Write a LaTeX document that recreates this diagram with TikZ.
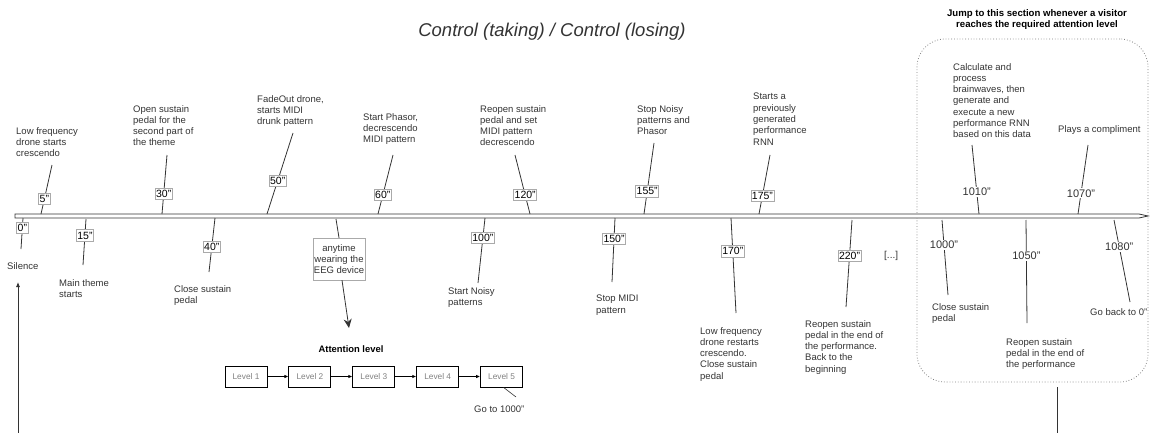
\documentclass[tikz,border=0pt]{standalone}
\usepackage{fontspec}
\setmainfont{Liberation Sans}
\usepackage{tikz}
\usetikzlibrary{arrows.meta,positioning}
\definecolor{inkgray}{HTML}{333333}
\definecolor{boxgray}{HTML}{AAAAAA}
\tikzset{
  evtext/.style = {anchor=north west, align=left, inner sep=0pt, text=inkgray,
    font=\fontsize{9.5}{11.3}\selectfont},% texte d'un evenement
  tlabel/.style = {draw=boxgray, fill=white, inner xsep=1pt, inner ysep=2pt,
    text=black, font=\fontsize{10.5}{12}\selectfont},% temps, avec cadre
  tfree/.style = {fill=white, inner sep=1pt, text=inkgray,
    font=\fontsize{11}{13}\selectfont},% temps, sans cadre
  tick/.style = {draw=inkgray, line width=0.8pt},
  anybox/.style = {draw=boxgray, fill=white, align=center, inner xsep=1pt,
    inner ysep=2pt, minimum width=50pt, minimum height=42pt, text=inkgray,
    font=\fontsize{9.5}{11.3}\selectfont},
  levelbox/.style = {draw=black, line width=0.9pt, minimum width=42pt,
    minimum height=21pt, text=gray, font=\fontsize{8.3}{10}\selectfont},
  levarrow/.style = {draw=black, line width=0.8pt, -{Latex[length=4pt,width=3.5pt]}},
  section/.style = {draw=gray, dotted, line width=0.8pt, rounded corners=28pt,
    minimum width=231pt, minimum height=343pt}
}

\begin{document}
\begin{tikzpicture}[x=1pt, y=-1pt]
\useasboundingbox (0,0) rectangle (1150,433);

\node [font=\fontsize{18.5}{22}\selectfont\itshape, text=inkgray] (title) at (552,32)
  {Control (taking) / Control (losing)};

% section reached by attention
\node [section] (sect) at (1032.5,210.5) {};
\node [font=\fontsize{9.6}{11}\selectfont\bfseries, align=center] (head) at (1037,20)
  {Jump to this section whenever a visitor\\reaches the required attention level};

% timeline
\draw [inkgray, line width=0.8pt, fill=white] (15,214) -- (1139,214) -- (1148,216)
  -- (1139,218) -- (15,218) -- cycle;

% above the timeline
\coordinate (b5) at (41,214);     \coordinate (e5) at (52,165);
\coordinate (b30) at (162,214);   \coordinate (e30) at (167,155);
\coordinate (b50) at (267,214);   \coordinate (e50) at (293,133);
\coordinate (b60) at (378,214);   \coordinate (e60) at (393,155);
\coordinate (b120) at (530,214);  \coordinate (e120) at (515,155);
\coordinate (b155) at (644,214);  \coordinate (e155) at (654,143);
\coordinate (b175) at (759,214);  \coordinate (e175) at (770,155);
\coordinate (b1010) at (979,214); \coordinate (e1010) at (972,145);
\coordinate (b1070) at (1078,214);\coordinate (e1070) at (1088,145);

\draw [tick] (b5) -- node [tlabel, pos=0.31] (l5) {5"} (e5);
\draw [tick] (b30) -- node [tlabel, pos=0.34] (l30) {30"} (e30);
\draw [tick] (b50) -- node [tlabel, pos=0.41] (l50) {50"} (e50);
\draw [tick] (b60) -- node [tlabel, pos=0.32] (l60) {60"} (e60);
\draw [tick] (b120) -- node [tlabel, pos=0.32] (l120) {120"} (e120);
\draw [tick] (b155) -- node [tlabel, pos=0.32] (l155) {155"} (e155);
\draw [tick] (b175) -- node [tlabel, pos=0.31] (l175) {175"} (e175);
\draw [tick] (b1010) -- node [tfree, pos=0.32] (l1010) {1010"} (e1010);
\draw [tick] (b1070) -- node [tfree, pos=0.30] (l1070) {1070"} (e1070);

\node [evtext] (t5) at (16,127) {Low frequency\\drone starts\\crescendo};
\node [evtext] (t30) at (133,105) {Open sustain\\pedal for the\\second part of\\the theme};
\node [evtext] (t50) at (257,95) {FadeOut drone,\\starts MIDI\\drunk pattern};
\node [evtext] (t60) at (363,113) {Start Phasor,\\decrescendo\\MIDI pattern};
\node [evtext] (t120) at (480,105) {Reopen sustain\\pedal and set\\MIDI pattern\\decrescendo};
\node [evtext] (t155) at (637,105) {Stop Noisy\\patterns and\\Phasor};
\node [evtext] (t175) at (753,93) {Starts a\\previously\\generated\\performance\\RNN};
\node [evtext] (t1010) at (953,63) {Calculate and\\process\\brainwaves, then\\generate and\\execute a new\\performance RNN\\based on this data};
\node [evtext] (t1070) at (1058,125) {Plays a compliment};

% below the timeline
\coordinate (b0) at (23,218);     \coordinate (e0) at (21,249);
\coordinate (b15) at (86,219);    \coordinate (e15) at (83,265);
\coordinate (b40) at (215,218);   \coordinate (e40) at (209,272);
\coordinate (b100) at (485,218);  \coordinate (e100) at (478,283);
\coordinate (b150) at (615,218);  \coordinate (e150) at (612,282);
\coordinate (b170) at (731,218);  \coordinate (e170) at (736,313);
\coordinate (b220) at (852,220);  \coordinate (e220) at (846,307);
\coordinate (b1000) at (942,220); \coordinate (e1000) at (948,295);
\coordinate (b1050) at (1026,220);\coordinate (e1050) at (1027,323);
\coordinate (b1080) at (1114,220);\coordinate (e1080) at (1130,302);

\draw [tick] (b0) -- node [tlabel, pos=0.32] (l0) {0"} (e0);
\draw [tick] (b15) -- node [tlabel, pos=0.36] (l15) {15"} (e15);
\draw [tick] (b40) -- node [tlabel, pos=0.54] (l40) {40"} (e40);
\draw [tick] (b100) -- node [tlabel, pos=0.31] (l100) {100"} (e100);
\draw [tick] (b150) -- node [tlabel, pos=0.33] (l150) {150"} (e150);
\draw [tick] (b170) -- node [tlabel, pos=0.35] (l170) {170"} (e170);
\draw [tick] (b220) -- node [tlabel, pos=0.41] (l220) {220"} (e220);
\draw [tick] (b1000) -- node [tfree, pos=0.33] (l1000) {1000"} (e1000);
\draw [tick] (b1050) -- node [tfree, pos=0.35] (l1050) {1050"} (e1050);
\draw [tick] (b1080) -- node [tfree, pos=0.33] (l1080) {1080"} (e1080);

\node [evtext] (t0) at (7,262) {Silence};
\node [evtext] (t15) at (59,279) {Main theme\\starts};
\node [evtext] (t40) at (174,285) {Close sustain\\pedal};
\node [evtext] (t100) at (448,287) {Start Noisy\\patterns};
\node [evtext] (t150) at (596,295) {Stop MIDI\\pattern};
\node [evtext] (t170) at (700,327) {Low frequency\\drone restarts\\crescendo.\\Close sustain\\pedal};
\node [evtext] (t220) at (805,320) {Reopen sustain\\pedal in the end of\\the performance.\\Back to the\\beginning};
\node [evtext] (t1000) at (932,303) {Close sustain\\pedal};
\node [evtext] (t1050) at (1006,338) {Reopen sustain\\pedal in the end of\\the performance};
\node [evtext] (t1080) at (1090,308) {Go back to 0"};
\node [evtext, font=\fontsize{10}{12}\selectfont] (skip) at (884,251) {[...]};

% anytime: attention levels
\coordinate (bany) at (336,219);
\coordinate (eany) at (349,328);
\node [anybox] (any) at (339,259) {anytime\\wearing the\\EEG device};
\draw [tick] (bany) -- (any.north);
\draw [tick, -{Stealth[length=9pt,width=8pt]}] ([xshift=3pt]any.south) -- (eany);

\node [font=\fontsize{9.4}{11}\selectfont\bfseries] (att) at (351,349) {Attention level};
\node [levelbox] (lv1) at (246,376.5) {Level 1};
\node [levelbox, right=21pt of lv1] (lv2) {Level 2};
\node [levelbox, right=21pt of lv2] (lv3) {Level 3};
\node [levelbox, right=21pt of lv3] (lv4) {Level 4};
\node [levelbox, right=21pt of lv4] (lv5) {Level 5};
\draw [levarrow] (lv1) -- (lv2);
\draw [levarrow] (lv2) -- (lv3);
\draw [levarrow] (lv3) -- (lv4);
\draw [levarrow] (lv4) -- (lv5);

\coordinate (ego) at (516,397);
\draw [tick, line width=0.6pt] ([xshift=2pt]lv5.south) -- (ego);
\node [evtext] (tgo) at (474,406) {Go to 1000"};

% back to the start
\coordinate (sectout) at (1057,433);
\coordinate (loopin) at (18,433);
\coordinate (looptip) at (18,282);
\draw [tick] ([yshift=-5pt]sect.south -| sectout) -- (sectout);
\draw [tick, -{Latex[length=5pt,width=4pt]}] (loopin) -- (looptip);
\end{tikzpicture}
\end{document}
